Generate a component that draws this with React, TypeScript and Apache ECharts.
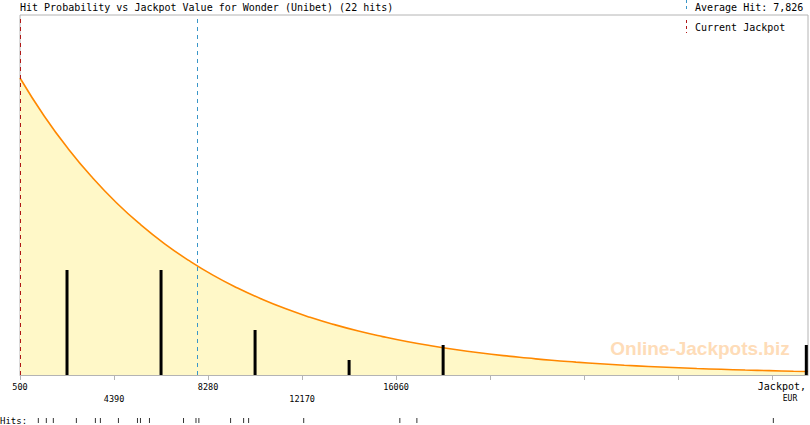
import * as echarts from 'echarts';
import { useEffect, useRef } from 'react';

const jackpotLevels = [
  500, 1500, 2500, 3500, 4500, 5500, 6500, 7500, 8500, 9500, 10500, 11500,
  12500, 13500, 14500, 15500, 16500, 17500, 18500, 19500, 20500, 21500, 22500,
  23500, 24500, 25500, 26500, 27500, 28500, 29500, 30500, 31500, 32500, 33100,
];
const hitProbability = [
  19.8, 17.27, 15.07, 13.15, 11.47, 10.01, 8.73, 7.62, 6.64, 5.8, 5.06, 4.41,
  3.85, 3.36, 2.93, 2.56, 2.23, 1.95, 1.7, 1.48, 1.29, 1.13, 0.98, 0.86, 0.75,
  0.65, 0.57, 0.5, 0.43, 0.38, 0.33, 0.29, 0.25, 0.23,
];
const binCenters = [2445, 6335, 10225, 14115, 18005, 33030];
const binCounts = [7, 7, 3, 1, 2, 2];
const hitValues = [
  1258, 1589, 1879, 2832, 3619, 3826, 4572, 5360, 5484, 5856, 7265, 7780, 7900,
  9212, 9751, 9958, 12237, 16214, 16919, 31666,
];
const tickValues = [500, 4390, 8280, 12170, 16060, 19950, 23840, 27730, 31620];
const labelValues = [500, 4390, 8280, 12170, 16060];
const averageHit = 7826;
const currentJackpot = 500;

const MONO = '"DejaVu Sans Mono", monospace';

const App: React.FC = () => {
  const chartRef = useRef<HTMLDivElement>(null);

  useEffect(() => {
    document.body.style.margin = '0';
    if (!chartRef.current) return;
    const chart = echarts.init(chartRef.current, undefined, { renderer: 'svg' });

    chart.setOption({
      animation: false,
      grid: [
        {
          left: 20,
          right: 2,
          top: 15,
          bottom: 50,
          show: true,
          borderColor: '#b4b4b4',
          borderWidth: 1,
          backgroundColor: '#fff',
        },
        { left: 20, right: 2, top: 418, height: 5 },
      ],
      xAxis: [
        {
          type: 'value',
          min: 500,
          max: 33100,
          splitLine: { show: false },
          axisLine: { lineStyle: { color: '#b4b4b4' } },
          axisTick: {
            length: 5,
            lineStyle: { color: '#b4b4b4' },
            customValues: tickValues,
          },
          axisLabel: {
            customValues: labelValues,
            fontFamily: MONO,
            fontSize: 8.5,
            color: '#000',
            margin: 6,
            lineHeight: 12,
            formatter: (v: number) =>
              labelValues.indexOf(v) % 2 === 1 ? '\n' + v : String(v),
          },
        },
        {
          type: 'value',
          gridIndex: 1,
          min: 500,
          max: 33100,
          show: false,
        },
      ],
      yAxis: [
        { type: 'value', min: 0, max: 24, show: false },
        { type: 'value', gridIndex: 1, min: 0, max: 1, show: false },
      ],
      graphic: [
        {
          type: 'text',
          x: 20,
          y: 7,
          style: {
            text: 'Hit Probability vs Jackpot Value for Wonder (Unibet) (22 hits)',
            font: `10px ${MONO}`,
            fill: '#000',
            verticalAlign: 'middle',
          },
        },
        {
          type: 'line',
          shape: { x1: 686.5, y1: 0, x2: 686.5, y2: 11 },
          style: { stroke: '#3a96c8', lineWidth: 1, lineDash: [3, 3] },
        },
        {
          type: 'text',
          x: 695,
          y: 7,
          style: {
            text: 'Average Hit: 7,826',
            font: `10px ${MONO}`,
            fill: '#000',
            verticalAlign: 'middle',
          },
        },
        {
          type: 'line',
          shape: { x1: 686.5, y1: 20, x2: 686.5, y2: 33 },
          style: { stroke: '#b01818', lineWidth: 1, lineDash: [3, 3] },
        },
        {
          type: 'text',
          x: 695,
          y: 27,
          style: {
            text: 'Current Jackpot',
            font: `10px ${MONO}`,
            fill: '#000',
            verticalAlign: 'middle',
          },
        },
        {
          type: 'text',
          x: 700,
          y: 348,
          z: 0,
          style: {
            text: 'Online-Jackpots.biz',
            font: 'bold 19px "Liberation Sans", Arial, sans-serif',
            fill: '#fedcb8',
            align: 'center',
            verticalAlign: 'middle',
          },
        },
        {
          type: 'text',
          x: 806,
          y: 386,
          style: {
            text: 'Jackpot,',
            font: `10px ${MONO}`,
            fill: '#000',
            align: 'right',
            verticalAlign: 'middle',
          },
        },
        {
          type: 'text',
          x: 790,
          y: 398,
          style: {
            text: 'EUR',
            font: `8px ${MONO}`,
            fill: '#000',
            align: 'center',
            verticalAlign: 'middle',
          },
        },
        {
          type: 'text',
          x: 0,
          y: 421,
          style: {
            text: 'Hits:',
            font: `9px ${MONO}`,
            fill: '#000',
            verticalAlign: 'middle',
          },
        },
      ],
      series: [
        {
          type: 'line',
          data: jackpotLevels.map((v, i) => [v, hitProbability[i]]),
          smooth: true,
          symbol: 'none',
          z: 2,
          lineStyle: { color: '#ff8800', width: 1.6 },
          areaStyle: { color: '#fff8c8', opacity: 1 },
          markLine: {
            symbol: ['none', 'none'],
            silent: true,
            label: { show: false },
            data: [
              {
                xAxis: currentJackpot,
                lineStyle: { color: '#b01818', type: [4, 4], width: 1 },
              },
              {
                xAxis: averageHit,
                lineStyle: { color: '#3a96c8', type: [4, 4], width: 1 },
              },
            ],
          },
        },
        {
          type: 'bar',
          data: binCenters.map((v, i) => [v, binCounts[i]]),
          barWidth: 3,
          z: 3,
          itemStyle: { color: '#000' },
        },
        {
          type: 'scatter',
          xAxisIndex: 1,
          yAxisIndex: 1,
          data: hitValues.map((v) => [v, 0.5]),
          symbol: 'rect',
          symbolSize: [1, 5],
          itemStyle: { color: '#000' },
        },
      ],
    });

    return () => {
      if (!chart.isDisposed()) chart.dispose();
    };
  }, []);

  return <div ref={chartRef} style={{ width: '810px', height: '425px' }} />;
};

export default App;
